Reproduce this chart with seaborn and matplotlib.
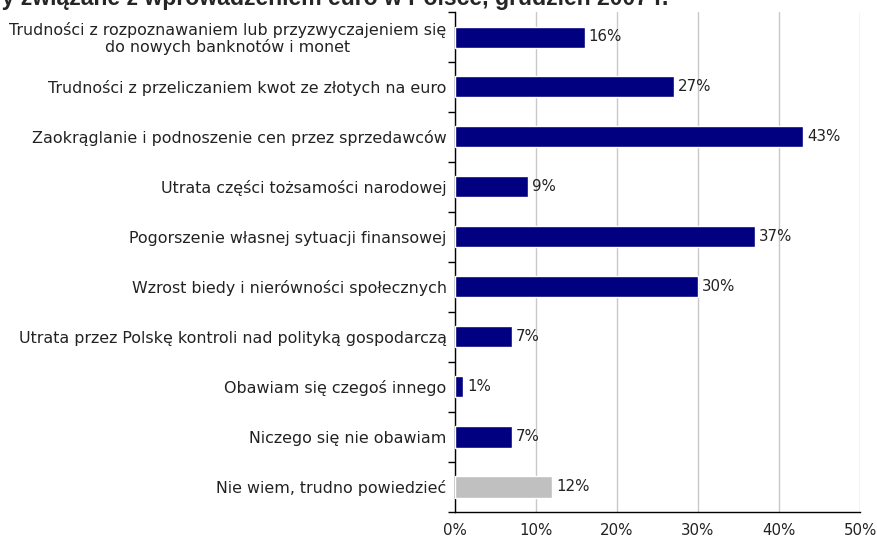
import matplotlib
matplotlib.use("Agg")
import matplotlib.pyplot as plt
import seaborn as sns
import pandas as pd
from matplotlib.ticker import FixedLocator, FuncFormatter

categories = [
    "Trudności z rozpoznawaniem lub przyzwyczajeniem się\ndo nowych banknotów i monet",
    "Trudności z przeliczaniem kwot ze złotych na euro",
    "Zaokrąglanie i podnoszenie cen przez sprzedawców",
    "Utrata części tożsamości narodowej",
    "Pogorszenie własnej sytuacji finansowej",
    "Wzrost biedy i nierówności społecznych",
    "Utrata przez Polskę kontroli nad polityką gospodarczą",
    "Obawiam się czegoś innego",
    "Niczego się nie obawiam",
    "Nie wiem, trudno powiedzieć",
]
values = [16, 27, 43, 9, 37, 30, 7, 1, 7, 12]
x_ticks = [0, 10, 20, 30, 40, 50]
title = "Obawy związane z wprowadzeniem euro w Polsce, grudzień 2007 r."

navy = "#000080"
grey = "#C0C0C0"
colors = [navy] * (len(categories) - 1) + [grey]

df = pd.DataFrame({"kategoria": categories, "procent": values})

sns.set_style("white")
plt.rcParams["font.family"] = ["DejaVu Sans"]

W, H = 877, 543
fig = plt.figure(figsize=(W / 100, H / 100), dpi=100)
ax = fig.add_axes([455 / W, 1 - 512 / H, (860 - 455) / W, (512 - 12) / H])

sns.barplot(
    data=df, x="procent", y="kategoria", hue="kategoria",
    palette=colors, legend=False, orient="h", width=0.42,
    saturation=1, ax=ax, zorder=3,
)

ax.set_xlim(0, 50)
ax.set_ylim(len(categories) - 0.5, -0.5)
ax.set_xlabel("")
ax.set_ylabel("")

text_color = "#222222"

# value labels at the bar ends
for i, v in enumerate(values):
    ax.annotate(f"{v}%", xy=(v, i), xytext=(4, 0), textcoords="offset pixels",
                ha="left", va="center", fontsize=10.8, color=text_color)

# axes styling
for side in ("top", "right"):
    ax.spines[side].set_visible(False)
for side in ("left", "bottom"):
    ax.spines[side].set_color("black")
    ax.spines[side].set_linewidth(1.0)

ax.xaxis.set_major_locator(FixedLocator(x_ticks))
ax.xaxis.set_major_formatter(FuncFormatter(lambda v, p: f"{v:.0f}%"))
ax.tick_params(axis="x", direction="out", length=5, width=1, color="black",
               labelsize=10.8, labelcolor=text_color, pad=3)
ax.xaxis.grid(True, color="#c8c8c8", linewidth=1)
ax.set_axisbelow(True)

# category separators drawn as minor ticks on the left spine
ax.yaxis.set_minor_locator(FixedLocator([i - 0.5 for i in range(len(categories) + 1)]))
ax.tick_params(axis="y", which="minor", direction="out", length=5, width=1, color="black", left=True)
ax.tick_params(axis="y", which="major", length=0, pad=6, labelsize=11.4, labelcolor=text_color)
for lab in ax.get_yticklabels():
    lab.set_multialignment("center")
    lab.set_linespacing(1.05)

fig.text(668 / W, 1 - 4.5 / H, title, ha="right", va="baseline",
         fontsize=16.6, fontweight="bold", family=["Liberation Sans", "DejaVu Sans"])

fig.savefig("out.png", dpi=100)
